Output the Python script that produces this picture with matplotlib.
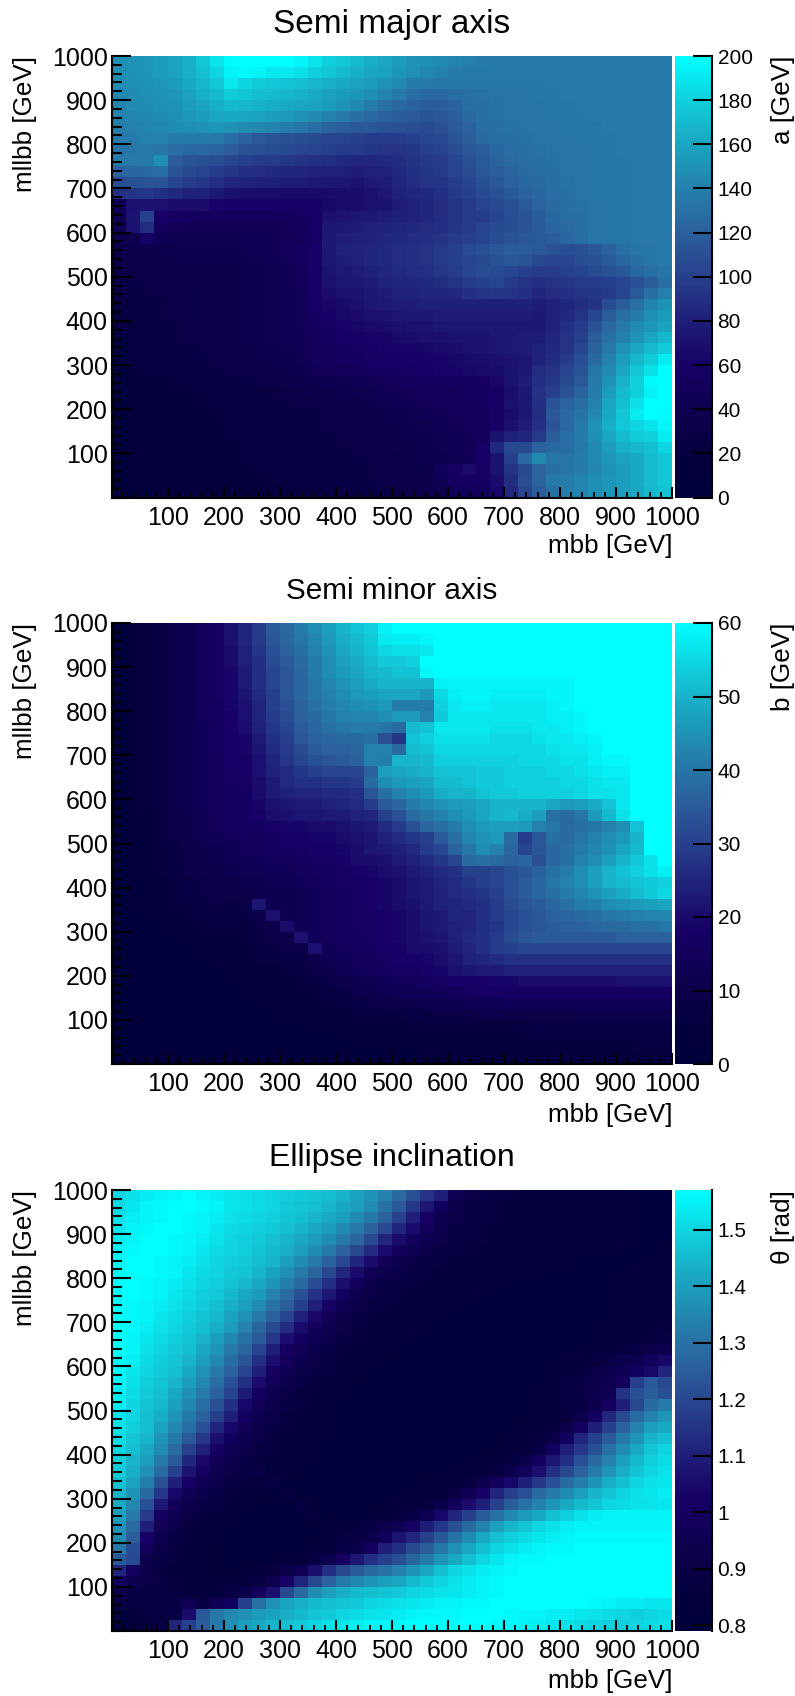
import numpy as np
import matplotlib
matplotlib.use('Agg')
import matplotlib.pyplot as plt
from matplotlib.colors import LinearSegmentedColormap
from matplotlib.ticker import MultipleLocator

# cell values, top row (mllbb 975-1000) first
semi_major = [
[148,150,152,155,158,165,175,188,198,200, 200,200,200,195,188,180,175,170,165,160, 155,150,148,145,142,140,138,136,136,136, 136,136,135,135,135,135,135,135,135,135],
[148,150,152,155,158,165,172,182,195,198, 195,190,190,186,180,175,170,165,160,158, 152,148,144,140,138,136,135,135,135,135, 135,135,135,135,135,135,135,135,135,135],
[146,148,150,152,155,162,168,175,190,182, 178,176,174,172,168,165,162,158,155,150, 145,138,135,134,134,134,134,134,134,134, 134,135,135,135,135,135,135,135,135,135],
[145,146,148,150,152,158,165,170,178,175, 172,170,168,165,162,158,155,152,148,142, 135,128,125,125,128,130,131,132,133,133, 134,134,135,135,135,135,135,135,135,135],
[142,145,146,148,150,155,160,165,170,168, 166,164,162,160,158,155,150,145,138,130, 125,120,118,118,122,128,130,131,132,133, 133,134,134,135,135,135,135,135,135,135],
[140,142,144,146,148,152,156,160,162,160, 158,156,153,150,145,140,135,130,125,120, 118,115,112,114,118,125,130,131,132,133, 133,134,134,134,135,135,135,135,135,135],
[138,140,142,144,146,148,150,152,150,146, 144,142,138,132,128,122,118,116,114,112, 110,108,106,110,115,120,128,130,131,132, 133,133,134,134,134,135,135,135,135,135],
[135,138,140,140,138,138,138,136,128,120, 115,112,110,108,106,104,102,100,98,98, 98,100,104,106,112,118,126,128,130,131, 132,132,133,134,134,134,135,135,135,135],
[132,134,135,132,128,125,125,122,118,112, 110,108,106,104,102,100,98,96,94,92, 92,94,100,102,108,114,118,124,128,130, 131,132,133,133,134,134,135,135,135,135],
[135,135,138,148,118,112,110,108,104,100, 98,96,94,92,90,88,86,84,84,86, 88,92,96,98,104,110,116,122,126,128, 130,131,132,133,134,134,134,135,135,135],
[122,124,125,128,112,106,102,98,94,90, 88,86,84,84,82,80,80,78,80,82, 86,90,94,96,102,108,114,118,122,126, 128,130,132,133,134,134,134,135,135,135],
[108,110,112,112,104,98,94,90,84,82, 80,80,78,78,76,74,74,72,76,78, 84,88,92,94,98,104,110,116,120,124, 127,129,131,132,133,134,134,135,135,135],
[90,92,94,90,86,82,80,76,70,68, 68,68,66,66,66,66,68,68,70,74, 80,84,86,90,96,100,106,110,116,120, 124,128,130,132,133,134,134,135,135,135],
[45,70,72,70,68,68,66,62,60,60, 60,60,60,60,60,64,66,68,70,72, 78,80,84,88,92,96,102,106,110,116, 122,126,130,131,132,133,134,135,135,135],
[40,72,100,60,56,54,52,50,50,50, 50,50,52,54,58,70,72,74,76,78, 80,82,84,88,92,96,98,102,108,112, 118,124,128,130,132,133,134,135,135,135],
[38,72,88,52,48,46,46,46,46,46, 46,46,48,50,58,74,76,78,80,82, 84,86,88,90,94,98,102,106,108,112, 116,122,126,130,132,133,134,135,135,135],
[35,38,60,44,42,42,42,42,42,44, 44,46,48,52,58,76,78,80,82,84, 86,88,90,92,96,100,104,108,112,114, 116,118,124,128,132,133,134,135,135,135],
[32,34,36,38,38,40,40,40,40,42, 44,46,50,56,60,76,80,82,84,86, 88,90,92,96,100,106,110,114,118,118, 116,112,108,110,114,120,128,132,134,135],
[30,32,34,36,36,38,38,38,38,40, 42,44,48,54,60,74,78,80,84,86, 88,90,92,96,100,104,106,110,114,112, 106,104,104,108,110,116,124,130,132,135],
[28,30,32,34,34,36,36,36,36,38, 40,42,46,52,60,72,76,78,80,84, 86,88,90,94,98,104,108,106,104,100, 98,98,100,102,106,110,116,124,128,132],
[26,28,30,32,32,34,34,34,36,38, 40,42,46,50,60,70,74,76,78,82, 84,84,86,88,92,96,100,102,98,92, 90,92,94,96,98,100,104,110,118,130],
[24,26,28,30,30,32,34,34,36,38, 40,42,44,48,60,68,70,72,76,78, 80,82,84,84,86,90,92,94,92,90, 84,88,90,92,94,96,104,115,130,140],
[22,24,26,28,30,32,34,34,36,38, 40,42,44,48,58,64,66,70,74,76, 78,78,80,80,80,80,80,80,80,80, 78,80,84,88,92,108,118,130,142,150],
[22,24,26,28,30,32,34,34,36,38, 40,42,44,48,56,60,64,66,70,72, 74,76,76,78,78,78,78,78,78,78, 76,80,86,92,104,118,130,138,148,155],
[22,22,24,26,28,30,32,34,36,38, 40,42,44,48,54,58,62,64,66,68, 70,72,72,74,76,76,76,76,76,76, 76,82,90,98,112,125,135,145,152,158],
[20,22,24,26,28,30,32,34,36,38, 40,42,44,46,52,56,60,60,62,62, 66,68,70,70,72,72,72,74,76,78, 78,84,92,100,118,130,140,150,160,168],
[18,20,22,24,26,28,30,32,34,36, 38,40,42,44,50,52,56,58,60,62, 62,62,64,66,68,70,72,74,76,78, 82,86,92,104,120,135,150,160,170,178],
[18,20,20,22,24,26,28,30,32,34, 36,38,40,42,48,50,54,56,58,60, 60,60,62,62,64,66,68,70,72,74, 80,88,98,110,125,140,155,168,178,192],
[16,18,20,20,22,24,26,28,30,32, 34,36,38,40,46,48,50,52,54,56, 56,58,60,62,62,64,66,68,72,76, 88,92,104,112,132,145,160,175,186,200],
[15,16,18,18,20,22,24,24,26,28, 30,32,34,36,38,40,42,44,46,48, 50,52,54,54,56,56,58,64,72,78, 90,95,106,115,135,150,166,180,198,200],
[12,14,15,16,18,18,20,22,24,24, 26,28,30,32,34,36,38,40,42,44, 46,48,50,50,52,54,56,60,68,76, 92,100,112,122,138,156,170,180,194,200],
[10,12,14,15,16,18,20,20,22,24, 24,26,28,30,30,32,34,36,38,42, 44,46,48,50,50,52,54,60,70,76, 90,112,122,128,140,160,172,186,200,200],
[10,12,14,15,16,18,18,20,22,22, 24,26,26,28,28,30,32,34,36,38, 40,42,44,46,48,50,52,58,68,74, 88,115,125,132,145,162,175,192,200,198],
[10,12,14,15,16,16,18,18,20,22, 22,24,26,26,28,30,30,32,34,36, 38,40,42,44,46,48,50,60,70,78, 90,112,125,135,150,165,176,182,188,196],
[10,12,14,15,15,16,18,18,20,20, 22,24,24,26,26,28,30,32,32,34, 36,38,40,42,44,46,50,72,80,84, 96,118,128,138,148,160,170,178,180,192],
[10,12,14,14,15,16,16,18,18,20, 20,22,24,24,26,26,28,30,32,32, 34,36,38,42,44,46,60,85,105,105, 120,125,128,135,145,155,165,168,172,182],
[10,12,12,14,14,15,16,18,18,20, 20,22,22,24,24,26,28,28,30,30, 32,34,38,40,42,44,60,72,100,125, 145,132,132,138,145,152,158,162,170,175],
[10,10,12,12,14,15,16,16,18,18, 20,20,22,22,24,24,26,28,28,30, 30,32,34,52,58,66,58,72,92,105, 122,130,132,138,144,150,156,162,170,175],
[10,10,12,12,14,14,15,16,16,18, 18,20,20,22,22,24,26,26,28,30, 30,32,36,44,56,58,55,68,88,108, 122,135,138,142,148,152,156,162,170,175],
[10,10,10,12,12,14,14,15,16,16, 18,18,20,20,22,24,24,26,28,28, 30,32,34,36,50,52,52,65,85,104, 118,130,138,142,148,152,156,160,168,174],
]

semi_minor = [
[3,4,6,8,10,12,15,17,21,25, 29,35,38,41,44,47,50,52,54,58, 60,60,60,60,60,60,60,60,60,60, 60,60,60,60,60,60,60,60,60,60],
[3,4,6,8,10,12,15,17,21,25, 29,34,37,40,43,46,49,51,53,57, 58,58,59,60,60,60,60,60,60,60, 60,60,60,60,60,60,60,60,60,60],
[3,4,6,8,10,12,15,17,20,24, 28,33,36,39,42,45,48,50,52,55, 56,56,57,60,60,60,60,60,60,60, 60,60,60,60,60,60,60,60,60,60],
[3,4,6,8,10,12,15,17,20,24, 27,32,35,38,41,44,47,49,51,53, 53,54,60,60,60,60,60,60,60,60, 60,60,60,60,60,60,60,60,60,60],
[3,4,6,8,10,12,15,17,19,23, 27,31,34,37,41,44,46,48,50,51, 52,52,59,60,60,60,60,60,60,60, 60,60,60,60,60,60,60,60,60,60],
[3,4,6,8,10,12,15,17,19,23, 27,31,34,37,40,43,45,47,49,50, 50,50,50,58,59,59,59,59,59,59, 59,59,59,60,60,60,60,60,60,60],
[3,4,6,8,10,12,15,17,19,22, 26,30,34,37,40,42,44,46,47,48, 48,48,46,55,58,59,59,58,58,58, 58,59,59,60,60,60,60,60,60,60],
[3,4,6,8,10,12,15,16,19,21, 25,30,33,36,39,41,43,44,45,46, 41,41,41,54,57,58,58,57,57,57, 57,58,59,60,60,60,60,60,60,60],
[3,4,6,8,10,12,15,16,18,21, 25,29,32,36,38,40,42,43,43,44, 46,46,42,53,57,57,57,57,57,57, 57,58,58,59,60,60,60,60,60,60],
[3,4,6,8,10,12,14,16,18,20, 24,28,31,35,37,39,40,41,41,40, 38,51,52,57,57,57,57,56,56,56, 57,57,58,59,60,60,60,60,60,60],
[3,4,6,8,10,12,14,16,18,19, 23,27,30,34,36,37,38,38,39,33, 28,52,54,56,56,56,56,55,55,55, 56,57,57,58,59,60,60,60,60,60],
[3,4,6,8,10,12,14,16,18,19, 22,26,29,32,35,36,36,37,42,42, 38,51,52,55,55,55,55,55,55,55, 55,56,57,57,58,60,60,60,60,60],
[3,4,6,8,10,12,14,15,18,18, 21,25,28,31,33,34,35,36,42,41, 50,50,51,54,54,54,54,54,54,55, 55,55,56,56,58,59,59,60,60,60],
[3,4,6,8,10,12,14,15,17,18, 21,24,26,28,30,31,31,31,36,47, 48,49,50,52,52,52,53,53,54,54, 54,55,55,56,57,58,58,60,60,60],
[3,4,6,8,10,12,14,15,17,17, 20,23,26,27,27,28,28,29,38,44, 46,47,48,51,51,52,53,53,54,54, 54,54,55,55,56,57,57,60,60,60],
[3,4,6,8,10,12,14,15,16,16, 20,23,24,25,25,26,26,27,34,39, 42,44,46,49,50,50,52,53,53,54, 54,54,54,55,56,56,57,60,60,60],
[3,4,6,8,10,12,14,15,16,16, 19,21,22,23,23,24,25,26,29,35, 37,41,43,45,46,47,48,50,50,50, 50,48,46,47,49,52,57,60,60,60],
[2,3,5,7,9,11,13,15,16,16, 18,20,21,22,22,23,23,24,25,30, 33,38,40,42,44,46,48,50,51,49, 47,39,38,40,46,51,56,60,60,60],
[2,3,5,7,9,11,13,15,16,16, 16,18,19,19,20,20,21,22,23,26, 29,33,37,39,41,44,46,47,47,46, 42,40,38,39,40,42,44,52,60,60],
[2,3,5,7,9,11,13,14,15,16, 15,16,18,18,19,19,20,21,22,24, 26,28,30,35,39,43,45,46,38,29, 34,39,38,40,42,44,46,50,60,60],
[2,3,4,6,8,10,11,12,13,15, 15,16,16,17,18,18,19,20,22,23, 24,26,29,31,36,40,44,42,37,31, 34,37,39,41,43,45,48,51,60,60],
[2,3,4,6,8,10,11,12,13,14, 14,15,15,16,17,17,18,20,20,21, 23,24,26,28,31,38,39,38,36,37, 33,37,39,42,44,47,50,53,56,60],
[2,3,4,6,8,9,10,11,12,13, 13,14,14,15,16,16,17,18,19,20, 21,23,24,26,27,30,30,31,33,34, 36,39,41,44,47,50,52,54,56,58],
[2,3,4,5,7,8,9,10,11,12, 12,13,13,14,15,16,17,17,18,19, 20,22,23,25,26,28,30,31,33,35, 37,40,42,44,47,50,51,52,53,54],
[2,3,4,5,6,8,9,9,10,10, 11,12,12,13,14,15,16,17,18,19, 20,22,23,24,26,27,28,30,33,35, 37,39,41,43,45,47,49,51,53,55],
[2,3,4,5,6,7,8,9,8,9, 22,12,12,13,14,15,16,17,18,19, 20,21,23,24,25,26,27,29,32,34, 35,37,39,41,42,44,45,46,47,48],
[2,3,3,4,5,6,7,7,7,8, 10,21,12,13,14,15,16,17,17,18, 19,20,22,23,25,25,27,29,31,33, 34,36,37,38,39,40,41,42,43,43],
[2,2,3,3,4,5,6,6,6,7, 9,10,20,13,14,15,16,17,17,18, 19,20,22,23,24,25,27,28,31,33, 34,35,36,36,37,38,38,39,39,40],
[2,2,2,3,3,4,4,5,5,6, 8,9,10,21,14,15,16,16,17,18, 19,20,21,22,24,26,27,29,32,34, 35,35,35,35,35,35,36,36,36,36],
[1,2,2,3,3,3,4,4,5,5, 7,7,9,10,21,14,15,16,16,18, 18,20,20,21,23,25,27,29,30,31, 31,31,31,31,31,31,31,31,31,31],
[1,2,2,2,3,3,3,4,4,5, 6,6,8,8,10,13,14,15,15,17, 18,18,19,20,22,24,25,26,27,27, 27,27,27,27,27,27,27,27,27,27],
[1,2,2,2,3,3,3,3,4,4, 5,5,6,7,9,11,13,14,15,16, 17,17,18,19,21,22,23,23,24,24, 24,24,24,24,24,24,24,24,24,24],
[1,2,2,2,2,3,3,3,3,4, 4,5,5,6,7,9,11,12,13,14, 15,15,16,17,18,18,18,19,19,20, 20,20,20,20,20,20,21,21,21,21],
[1,2,2,2,2,2,3,3,3,3, 4,4,5,5,6,7,8,10,11,12, 13,14,14,15,15,16,17,17,17,17, 17,17,17,17,17,17,17,17,17,17],
[1,1,2,2,2,2,2,3,3,3, 3,4,4,5,5,6,7,8,9,10, 11,11,12,12,12,13,13,13,14,14, 14,14,14,14,14,14,14,14,14,14],
[1,1,2,2,2,2,2,2,3,3, 3,3,4,4,4,5,5,6,6,7, 7,8,8,9,9,9,10,10,10,10, 10,10,10,11,11,11,11,11,11,11],
[1,1,1,2,2,2,2,2,2,2, 3,3,3,3,4,4,4,4,5,5, 5,6,6,6,6,7,7,7,7,7, 8,8,8,8,8,8,8,8,8,8],
[1,1,1,1,2,2,2,2,2,2, 2,3,3,3,3,3,3,4,4,4, 4,4,4,5,5,5,5,5,5,6, 6,6,6,6,6,6,6,7,7,7],
[1,1,1,1,1,2,2,2,2,2, 2,2,3,3,3,3,3,3,3,3, 3,3,4,4,4,4,4,4,4,5, 5,5,5,5,5,5,5,6,6,6],
[1,1,1,1,1,1,2,2,2,2, 2,2,2,2,3,3,3,3,3,3, 3,3,3,3,3,4,4,4,4,4, 4,4,4,5,5,5,5,5,6,6],
]

# inclination in 1/100 rad
inclination = [
[150,152,154,155,156,157,155,154,153,152, 151,150,149,148,147,146,144,141,138,134, 128,122,115,110,96,92,90,88,87,86, 86,85,85,84,84,83,83,82,82,82],
[151,153,155,156,157,157,156,155,153,152, 151,150,148,147,146,144,142,140,136,130, 124,116,108,99,93,90,88,87,86,86, 85,85,85,84,84,83,83,82,82,82],
[152,154,155,156,157,156,155,154,152,151, 150,149,147,146,144,142,140,136,132,126, 118,110,102,95,91,89,88,87,86,86, 85,85,85,84,84,83,83,82,82,82],
[153,155,156,157,157,156,155,153,151,150, 149,148,146,144,142,139,136,132,126,120, 112,105,98,93,90,88,87,86,86,85, 85,85,84,84,84,83,83,82,82,82],
[154,155,157,157,156,155,154,152,150,149, 148,146,144,142,139,136,132,127,120,112, 105,98,95,91,89,88,87,86,85,85, 85,84,84,84,83,83,83,82,82,82],
[155,156,157,157,156,155,153,151,150,149, 147,145,143,140,136,132,126,120,113,105, 98,95,91,89,88,87,86,85,85,84, 84,84,83,83,83,83,82,82,82,83],
[156,157,157,156,155,154,152,150,149,148, 146,144,140,136,132,126,120,112,105,97, 94,91,89,88,86,86,85,84,84,83, 83,83,83,82,82,82,82,82,83,83],
[156,157,157,156,155,153,151,150,148,147, 144,141,137,132,127,120,112,105,97,94, 91,89,88,86,85,84,84,83,83,83, 82,82,82,82,82,82,82,83,83,83],
[157,157,156,155,154,152,150,149,147,145, 142,138,133,128,121,114,106,98,93,90, 89,87,86,85,84,83,83,83,82,82, 82,82,82,82,82,82,83,83,83,83],
[157,157,156,155,153,151,149,148,145,142, 139,134,128,122,115,108,100,94,91,89, 87,86,85,84,83,83,82,82,82,82, 81,81,81,81,82,82,83,83,83,84],
[157,156,155,154,152,150,148,146,143,140, 136,130,125,118,110,102,96,92,89,87, 86,85,84,83,83,82,82,81,81,81, 81,81,81,81,82,82,83,83,84,84],
[157,156,155,153,151,149,147,145,141,137, 132,126,119,111,104,97,93,90,88,86, 85,84,83,82,82,81,81,81,81,81, 81,81,81,81,82,82,83,84,85,86],
[157,156,154,152,150,148,146,143,139,134, 127,120,113,105,98,94,91,88,86,85, 84,83,82,82,81,81,81,81,81,81, 81,81,81,81,82,83,84,85,86,87],
[157,155,153,151,149,147,144,140,135,130, 124,116,106,100,96,92,89,87,85,84, 83,82,82,81,81,81,81,81,81,81, 81,81,81,82,82,83,84,86,88,90],
[157,155,152,150,148,146,142,138,132,127, 119,110,101,97,93,90,87,86,84,83, 82,82,81,81,81,81,81,80,80,81, 81,81,82,82,83,85,87,90,92,94],
[156,154,151,149,147,144,140,135,129,123, 114,106,98,94,91,88,86,84,83,82, 81,81,81,80,80,80,80,80,80,81, 81,82,83,85,88,90,92,95,98,104],
[156,153,150,148,146,142,137,132,126,119, 110,101,96,92,89,87,85,83,82,81, 81,80,80,80,80,80,80,80,80,81, 82,83,85,88,91,94,96,100,104,112],
[155,152,149,147,144,140,135,129,122,114, 105,98,93,90,87,85,84,82,81,81, 80,80,80,80,80,80,80,80,81,81, 82,84,87,90,92,94,98,118,124,120],
[154,151,148,146,142,137,132,126,119,109, 100,95,91,88,86,84,83,82,81,80, 80,80,80,80,80,80,80,80,81,82, 83,85,88,90,93,96,115,122,125,122],
[154,150,147,145,140,135,129,122,114,104, 97,93,89,87,85,83,82,81,80,80, 80,80,80,80,80,80,80,80,81,82, 83,85,87,90,94,100,110,120,128,132],
[153,150,146,143,138,132,126,118,110,100, 95,91,88,86,84,83,81,81,80,80, 80,80,80,80,80,80,80,81,81,82, 84,86,88,92,100,112,120,128,134,138],
[152,149,146,141,135,129,122,112,104,97, 93,90,87,85,84,82,81,80,80,80, 80,80,80,80,80,80,80,81,82,83, 85,87,92,100,110,118,126,134,140,142],
[151,147,144,138,132,124,116,106,99,95, 91,88,86,84,83,82,81,80,80,80, 80,80,80,80,80,80,81,81,83,84, 87,91,100,112,118,124,132,138,144,146],
[150,146,142,136,128,118,110,101,96,92, 89,87,85,84,82,81,81,80,80,80, 80,80,80,80,80,81,81,82,84,86, 90,100,110,116,122,130,136,142,147,150],
[149,144,140,132,124,112,104,97,94,90, 88,86,84,83,82,81,80,80,80,80, 80,80,80,81,81,82,83,85,87,92, 100,108,114,122,128,134,140,145,149,151],
[148,143,137,128,118,107,100,95,91,89, 91,85,84,82,81,80,80,80,80,80, 80,81,81,82,83,84,86,88,92,98, 106,114,120,126,132,138,143,147,150,152],
[146,141,133,122,110,102,96,92,89,87, 85,90,82,81,81,80,80,80,80,81, 81,82,83,84,85,88,93,98,104,110, 116,122,128,133,138,143,146,150,152,153],
[144,138,128,116,104,97,93,90,87,85, 83,82,88,81,80,80,80,80,81,81, 82,83,84,86,90,96,103,112,118,122, 128,132,136,140,144,147,150,152,153,154],
[142,135,122,108,98,93,90,87,85,83, 82,81,81,87,80,80,80,80,81,82, 84,86,88,92,98,105,110,118,125,130, 134,138,142,145,147,150,151,152,152,153],
[140,132,117,101,95,91,88,85,83,82, 81,81,81,81,87,80,81,81,82,84, 87,90,95,104,112,118,124,130,135,139, 142,146,149,152,154,155,155,155,155,155],
[138,128,110,97,92,88,85,83,82,81, 80,80,80,81,81,83,84,86,90,93, 96,102,110,116,122,128,134,140,144,147, 150,152,154,155,155,155,155,155,155,155],
[136,125,103,94,90,86,83,82,81,80, 80,80,80,81,82,84,87,90,92,98, 107,112,118,124,130,136,142,146,149,151, 153,154,155,156,156,156,156,156,156,156],
[132,121,98,91,88,85,83,81,80,80, 80,80,81,82,83,86,90,93,100,110, 114,120,125,131,137,142,146,150,152,154, 155,156,156,157,157,157,157,157,157,157],
[124,120,93,90,87,85,83,82,80,80, 81,82,84,86,90,94,101,108,114,118, 122,127,132,138,142,146,150,153,155,156, 156,157,157,157,157,157,157,157,157,157],
[112,100,92,88,86,84,83,81,81,83, 86,88,92,96,106,114,120,124,128,130, 134,138,142,146,150,152,154,155,156,157, 157,157,157,157,157,157,157,157,157,157],
[100,94,91,90,87,86,83,82,84,86, 89,94,102,112,120,126,132,135,138,140, 142,145,148,150,152,154,155,156,157,157, 157,157,157,157,157,157,157,157,157,157],
[92,90,90,89,88,84,83,86,90,92, 98,106,120,128,136,140,143,145,146,147, 148,150,151,152,153,154,155,156,157,157, 157,157,157,157,157,157,157,157,157,157],
[88,88,88,89,90,96,90,96,100,118, 130,137,141,143,145,146,147,148,150,151, 152,153,154,155,155,156,156,157,157,157, 157,157,157,157,156,155,154,154,153,153],
[85,86,88,88,90,105,124,131,135,137, 139,141,143,145,147,148,150,151,152,153, 154,155,156,156,156,157,157,157,156,155, 155,154,154,153,152,151,150,149,150,151],
[84,85,86,90,112,118,125,132,137,140, 142,144,146,148,150,152,153,154,155,155, 156,157,157,157,157,157,157,156,156,155, 154,153,152,151,150,149,149,150,151,152],
]

bin_edges = np.arange(0, 1001, 25)
tick_vals = [100, 200, 300, 400, 500, 600, 700, 800, 900, 1000]
titles = ['Semi major axis', 'Semi minor axis', 'Ellipse inclination']
z_labels = ['a [GeV]', 'b [GeV]', '\u03b8 [rad]']
a_ticks = [0, 20, 40, 60, 80, 100, 120, 140, 160, 180, 200]
b_ticks = [0, 10, 20, 30, 40, 50, 60]
t_ticks = [0.8, 0.9, 1.0, 1.1, 1.2, 1.3, 1.4, 1.5]
t_tick_labels = ['0.8', '0.9', '1', '1.1', '1.2', '1.3', '1.4', '1.5']

W, H = 795., 1696.
plt.rcParams['font.family'] = ['Liberation Sans', 'DejaVu Sans']

cmap = LinearSegmentedColormap.from_list('palette', [
    (0.0, '#00003a'), (0.1, '#05003f'), (0.2, '#0e0050'), (0.3, '#170066'),
    (0.4, '#1f1f78'), (0.5, '#27408c'), (0.6, '#2b609c'), (0.7, '#2480ac'),
    (0.8, '#1aa5c0'), (0.9, '#10cfdc'), (1.0, '#00ffff')], N=255)

fig = plt.figure(figsize=(W/100, H/100), dpi=100)

def px_axes(x0, x1, y0, y1):
    return fig.add_axes([x0/W, 1-y1/H, (x1-x0)/W, (y1-y0)/H])

def draw_panel(vals, vmin, vmax, y0, y1, title, title_size, title_y, zlab, cticks, clabels, mbb_y):
    ax = px_axes(112, 672, y0, y1)
    mesh = ax.pcolormesh(bin_edges, bin_edges, np.array(vals)[::-1], cmap=cmap, vmin=vmin, vmax=vmax)
    ax.set_xlim(0, 1000)
    ax.set_ylim(0, 1000)
    ax.set_xticks(tick_vals)
    ax.set_yticks(tick_vals)
    ax.xaxis.set_minor_locator(MultipleLocator(20))
    ax.yaxis.set_minor_locator(MultipleLocator(20))
    ax.tick_params(axis='x', which='major', direction='in', length=8, width=1.5, pad=6, labelsize=18, top=False)
    ax.tick_params(axis='x', which='minor', direction='in', length=4, width=1.3, top=False)
    ax.tick_params(axis='y', which='major', direction='in', length=14, width=1.5, pad=3, labelsize=18, right=False)
    ax.tick_params(axis='y', which='minor', direction='in', length=7, width=1.5, right=False)
    for m in ['top', 'right']:
        ax.spines[m].set_visible(False)
    for m in ['left', 'bottom']:
        ax.spines[m].set_linewidth(1.5)

    cax = px_axes(675, 712, y0, y1)
    cb = fig.colorbar(mesh, cax=cax)
    cb.outline.set_visible(False)
    cb.set_ticks(cticks)
    cb.set_ticklabels(clabels)
    cb.minorticks_off()
    cax.spines['right'].set_visible(True)
    cax.spines['right'].set_linewidth(1.5)
    cax.tick_params(axis='y', direction='in', length=14, width=1.5, pad=4, labelsize=15)

    fig.text(392/W, 1-title_y/H, title, fontsize=title_size, ha='center', va='center')
    fig.text(25/W, 1-y0/H, 'mllbb [GeV]', fontsize=18.7, rotation=90, ha='center', va='top')
    fig.text(783/W, 1-y0/H, zlab, fontsize=18.7, rotation=90, ha='center', va='top')
    fig.text(672/W, 1-mbb_y/H, 'mbb [GeV]', fontsize=18.7, ha='right', va='center')

draw_panel(semi_major, 0, 200, 56, 497.5, titles[0], 24, 24, z_labels[0], a_ticks, [str(v) for v in a_ticks], 546)
draw_panel(semi_minor, 0, 60, 623, 1064, titles[1], 21.4, 591, z_labels[1], b_ticks, [str(v) for v in b_ticks], 1115)
draw_panel(np.array(inclination)/100., 0.79, 1.57, 1190, 1631, titles[2], 23, 1158, z_labels[2], t_ticks, t_tick_labels, 1681)

fig.savefig('out.png', dpi=100)
